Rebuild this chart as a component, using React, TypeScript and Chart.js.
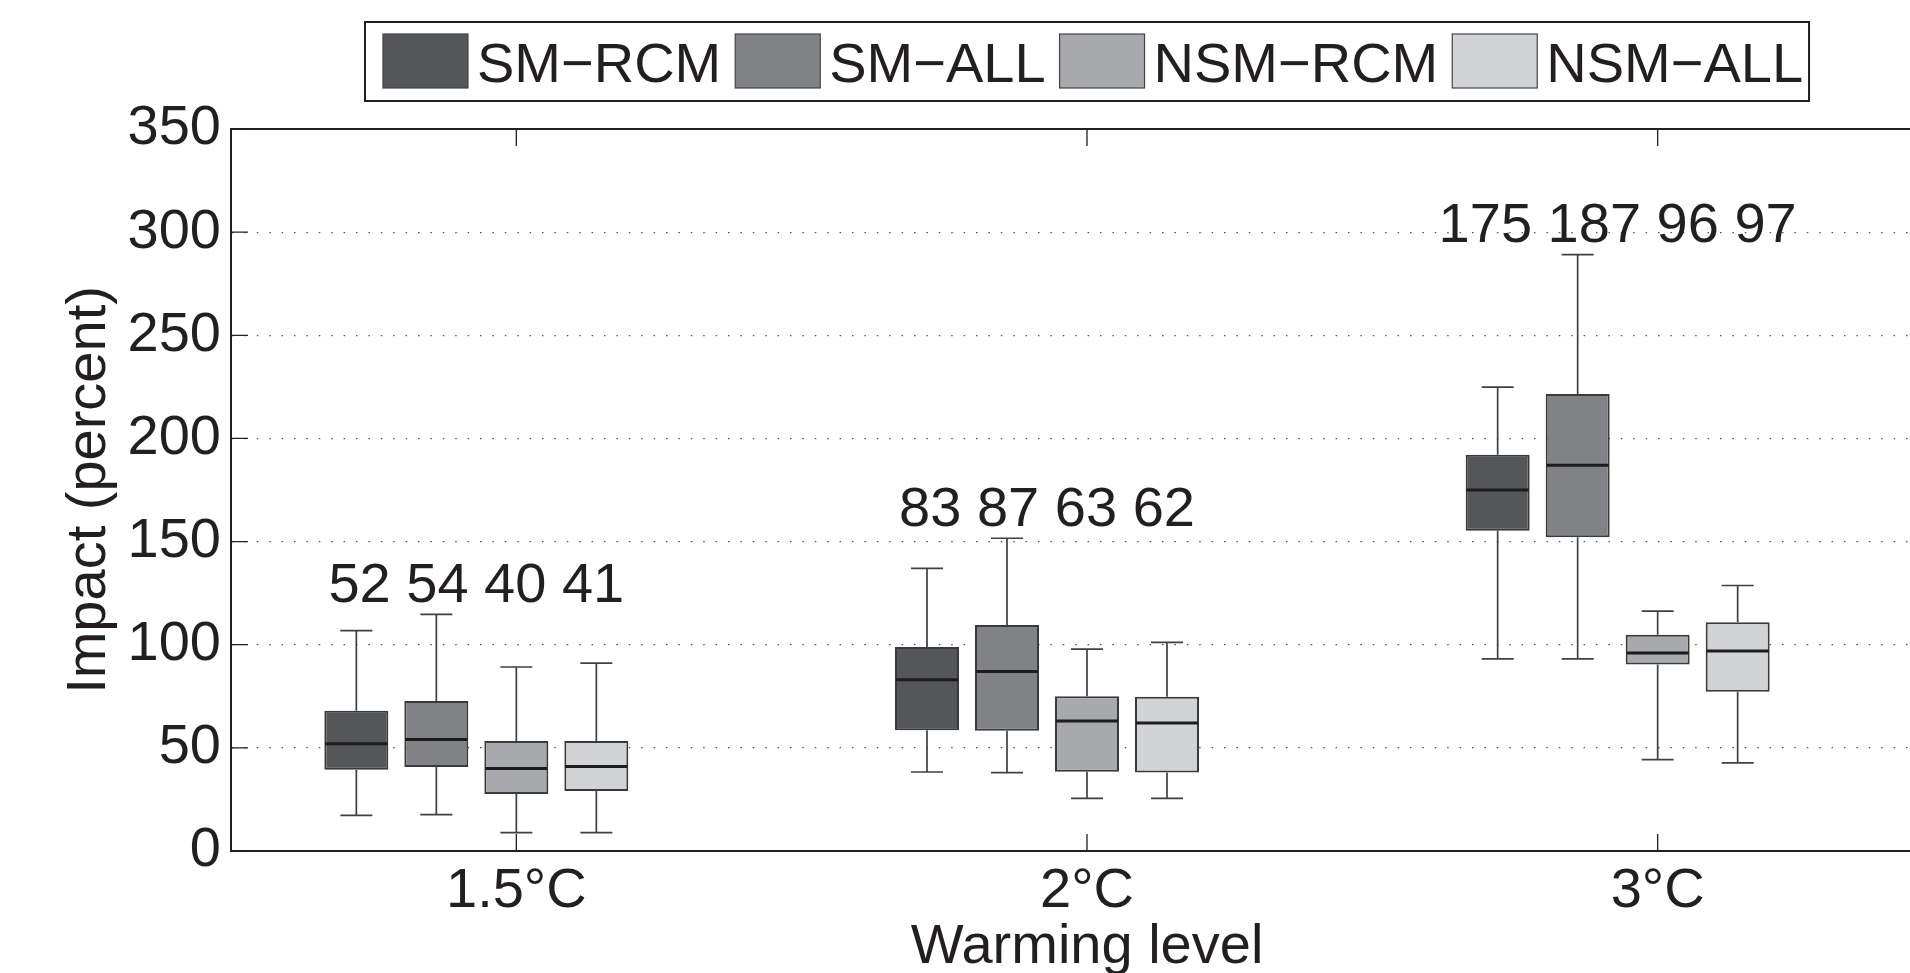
import React, { useEffect, useRef } from 'react';
import { Chart, registerables } from 'chart.js';

Chart.register(...registerables);

// ---------- data ----------
const categories = ['1.5°C', '2°C', '3°C'];
const seriesNames = ['SM−RCM', 'SM−ALL', 'NSM−RCM', 'NSM−ALL'];
const seriesFill = ['#545658', '#808285', '#a7a9ac', '#d1d3d4'];

// rows: series (SM-RCM, SM-ALL, NSM-RCM, NSM-ALL); columns: categories
const whiskerLow = [
  [17.3, 38.3, 93.1],
  [17.6, 38.0, 93.1],
  [8.9, 25.5, 44.3],
  [8.9, 25.5, 42.7],
];
const quartile1 = [
  [39.4, 58.5, 155.2],
  [40.7, 58.3, 152.1],
  [27.6, 38.4, 90.4],
  [29.1, 38.1, 77.2],
];
const median = [
  [52, 83, 175],
  [54, 87, 187],
  [40, 63, 96],
  [41, 62, 97],
];
const quartile3 = [
  [68.0, 98.9, 192.1],
  [72.7, 109.5, 221.5],
  [53.3, 75.0, 104.8],
  [53.3, 74.8, 110.9],
];
const whiskerHigh = [
  [106.8, 137.0, 224.9],
  [114.7, 151.6, 289.1],
  [89.2, 97.9, 116.3],
  [91.1, 101.1, 128.7],
];

const yMin = 0;
const yMax = 350;
const yStep = 50;

// ---------- style ----------
const FONT = "'Liberation Sans', Arial, Helvetica, sans-serif";
const INK = '#231f20';
const FONT_SIZE = 56;
const LABEL_GAP = 6; // value units between group max whisker and label baseline

const boxPlotPlugin = {
  id: 'boxplotExtras',
  afterDatasetsDraw(chart: any) {
    const ctx = chart.ctx;
    const y = chart.scales.y;
    ctx.save();
    for (let s = 0; s < seriesNames.length; s++) {
      const meta = chart.getDatasetMeta(s);
      meta.data.forEach((bar: any, c: number) => {
        const { x, width } = bar.getProps(['x', 'width'], true);
        const half = width / 2;
        const pLow = y.getPixelForValue(whiskerLow[s][c]);
        const pQ1 = y.getPixelForValue(quartile1[s][c]);
        const pMed = y.getPixelForValue(median[s][c]);
        const pQ3 = y.getPixelForValue(quartile3[s][c]);
        const pHigh = y.getPixelForValue(whiskerHigh[s][c]);
        ctx.strokeStyle = '#404041';
        ctx.lineWidth = 1.7;
        ctx.beginPath();
        ctx.moveTo(x, pQ3);
        ctx.lineTo(x, pHigh);
        ctx.moveTo(x - half / 2, pHigh);
        ctx.lineTo(x + half / 2, pHigh);
        ctx.moveTo(x, pQ1);
        ctx.lineTo(x, pLow);
        ctx.moveTo(x - half / 2, pLow);
        ctx.lineTo(x + half / 2, pLow);
        ctx.stroke();
        ctx.strokeStyle = '#1c1c1c';
        ctx.lineWidth = 3;
        ctx.beginPath();
        ctx.moveTo(x - half + 1, pMed);
        ctx.lineTo(x + half - 1, pMed);
        ctx.stroke();
      });
    }
    // median labels above each group
    ctx.font = `${FONT_SIZE}px ${FONT}`;
    ctx.fillStyle = INK;
    ctx.textAlign = 'center';
    ctx.textBaseline = 'alphabetic';
    categories.forEach((_, c) => {
      let sumX = 0;
      let top = -Infinity;
      seriesNames.forEach((__, s) => {
        sumX += chart.getDatasetMeta(s).data[c].x;
        top = Math.max(top, whiskerHigh[s][c]);
      });
      const text = seriesNames.map((__, s) => String(Math.round(median[s][c]))).join(' ');
      ctx.fillText(text, sumX / seriesNames.length, y.getPixelForValue(top + LABEL_GAP));
    });
    ctx.restore();
  },
  afterDraw(chart: any) {
    const ctx = chart.ctx;
    const area = chart.chartArea;
    const x = chart.scales.x;
    const y = chart.scales.y;
    const tickLen = 17;
    ctx.save();
    // frame (top & right)
    ctx.strokeStyle = INK;
    ctx.lineWidth = 2;
    ctx.beginPath();
    ctx.moveTo(area.left, area.top);
    ctx.lineTo(area.right, area.top);
    ctx.lineTo(area.right, area.bottom);
    ctx.stroke();
    // inward ticks
    ctx.lineWidth = 1.3;
    ctx.beginPath();
    y.ticks.forEach((t: any) => {
      const py = y.getPixelForValue(t.value);
      ctx.moveTo(area.left, py);
      ctx.lineTo(area.left + tickLen, py);
      ctx.moveTo(area.right, py);
      ctx.lineTo(area.right - tickLen, py);
    });
    categories.forEach((_, i) => {
      const px = x.getPixelForValue(i);
      ctx.moveTo(px, area.bottom);
      ctx.lineTo(px, area.bottom - tickLen);
      ctx.moveTo(px, area.top);
      ctx.lineTo(px, area.top + tickLen);
    });
    ctx.stroke();

    // legend
    ctx.font = `${FONT_SIZE}px ${FONT}`;
    const items = chart.data.datasets.filter((d: any) => d.label);
    const widths = items.map((d: any) => ctx.measureText(d.label).width);
    const sw = 85, sh = 54, gapText = 9, gapItem = 14, padL = 18, padR = 6;
    const total =
      padL + padR + widths.reduce((a: number, w: number) => a + sw + gapText + w, 0) + gapItem * (items.length - 1);
    const center = (area.left + area.right) / 2;
    const bx = center - total / 2;
    const by = 22;
    const bh = 79;
    ctx.lineWidth = 2;
    ctx.strokeStyle = INK;
    ctx.strokeRect(bx, by, total, bh);
    let cx = bx + padL;
    ctx.textAlign = 'left';
    ctx.textBaseline = 'alphabetic';
    items.forEach((d: any, i: number) => {
      ctx.fillStyle = d.backgroundColor;
      ctx.fillRect(cx, by + 12, sw, sh);
      ctx.strokeStyle = '#444446';
      ctx.lineWidth = 1.2;
      ctx.strokeRect(cx, by + 12, sw, sh);
      ctx.fillStyle = INK;
      ctx.fillText(d.label, cx + sw + gapText, by + 60);
      cx += sw + gapText + widths[i] + gapItem;
    });
    ctx.restore();
  },
};

export default function App() {
  const canvasRef = useRef<HTMLCanvasElement | null>(null);

  useEffect(() => {
    const canvas = canvasRef.current;
    if (!canvas) return;
    const datasets: any[] = seriesNames.map((name, s) => ({
      label: name,
      data: categories.map((_, c) => [quartile1[s][c], quartile3[s][c]]),
      backgroundColor: seriesFill[s],
      borderColor: '#3a3a3c',
      borderWidth: 2,
      borderSkipped: false,
    }));
    // empty spacer group slot (keeps NSM-RCM on the tick, as in the original)
    datasets.push({ label: '', data: categories.map(() => null), backgroundColor: 'rgba(0,0,0,0)' });

    const chart = new Chart(canvas, {
      type: 'bar',
      data: { labels: categories, datasets },
      options: {
        responsive: false,
        animation: false,
        devicePixelRatio: 1,
        layout: { padding: { top: 129, right: 57, left: 0, bottom: 0 } },
        datasets: { bar: { categoryPercentage: 400 / 570.67, barPercentage: 0.8 } },
        plugins: { legend: { display: false }, tooltip: { enabled: false } },
        scales: {
          x: {
            type: 'category',
            offset: true,
            grid: { display: false, drawTicks: false },
            border: { display: true, color: INK, width: 2 },
            ticks: { padding: 13, color: INK, font: { family: FONT, size: FONT_SIZE, lineHeight: 1 } },
            title: {
              display: true,
              text: 'Warming level',
              color: INK,
              font: { family: FONT, size: FONT_SIZE, lineHeight: 0.9 },
              padding: { top: 0, bottom: 0 },
            },
            afterFit: (s: any) => {
              s.height = 122;
            },
          },
          y: {
            min: yMin,
            max: yMax,
            ticks: { stepSize: yStep, padding: 10, color: INK, font: { family: FONT, size: FONT_SIZE, lineHeight: 1 } },
            grid: { drawTicks: false, color: '#555555', lineWidth: 1.2 },
            border: { display: true, color: INK, width: 2, dash: [1.5, 10.9] },
            title: {
              display: true,
              text: 'Impact (percent)',
              color: INK,
              font: { family: FONT, size: FONT_SIZE, lineHeight: 1 },
              padding: { top: 62, bottom: 0 },
            },
            afterFit: (s: any) => {
              s.width = 231;
            },
          },
        },
      } as any,
      plugins: [boxPlotPlugin],
    });
    return () => chart.destroy();
  }, []);

  return (
    <div
      style={{
        position: 'fixed',
        left: 0,
        top: 0,
        width: 1910,
        height: 973,
        overflow: 'hidden',
        background: '#ffffff',
      }}
    >
      <canvas ref={canvasRef} width={2000} height={973} style={{ width: 2000, height: 973, display: 'block' }} />
    </div>
  );
}
